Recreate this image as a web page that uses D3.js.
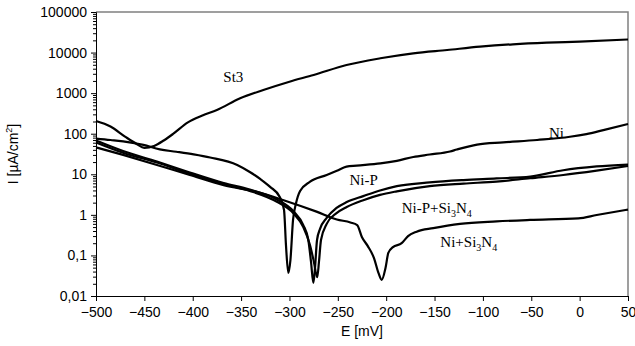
<!DOCTYPE html>
<html>
<head>
<meta charset="utf-8">
<script src="https://cdn.jsdelivr.net/npm/d3@7"></script>
<style>
  body { margin: 0; background: #fff; }
  svg { display: block; }
</style>
</head>
<body>
<div id="chart"></div>
<script>
// potentiodynamic curves, E in mV, I in uA/cm2
const st3E = [-500, -485, -470, -458, -450, -440, -430, -420, -405, -390, -375, -351, -327, -300, -275, -241, -206, -172, -137, -103, -69, -34, 0, 50];
const st3I = [205, 150, 85, 56, 45, 50, 68, 100, 190, 280, 384, 746, 1195, 1915, 2800, 4940, 7230, 9600, 11570, 13960, 16000, 17530, 18550, 21000];

const niE = [-500, -485, -451, -434, -417, -399, -382, -354, -341, -330, -320, -310, -305.6, -303.6, -301.2, -299, -296.3, -293.2, -289, -279, -261.5, -251, -241, -230.5, -206, -189, -172, -155, -134, -127, -106, -79, -44, -10, 7, 24.5, 50];
const niI = [76, 70, 53, 41, 36, 31, 26, 17, 11.4, 7.6, 4.9, 2.75, 1.32, 0.18, 0.037, 0.077, 0.75, 1.93, 3.87, 6.5, 9.6, 12.2, 15.4, 16.3, 18.5, 21.5, 26.7, 30.7, 36.5, 40.8, 54, 61, 70, 84, 98, 123, 173];

const niPE = [-500, -472, -437, -403, -368, -341, -313, -296, -285.7, -280.5, -277.7, -275.3, -273.6, -271.5, -268.4, -261.5, -251.3, -240.8, -223.7, -206.4, -189, -155, -120, -86, -51, -17, 17.6, 50];
const niPI = [68, 37.5, 20.6, 11.1, 6.1, 4.2, 2.4, 1.24, 0.56, 0.24, 0.069, 0.021, 0.049, 0.24, 0.45, 0.84, 1.48, 2.07, 2.9, 4.0, 5.1, 6.3, 7.2, 7.9, 8.8, 12.6, 15.6, 17.4];

const niPSiE = [-500, -472, -437, -403, -368, -341, -313, -296, -285.7, -278.8, -274.7, -271.3, -269.5, -267.4, -261.5, -251.3, -240.8, -223.7, -206.4, -189, -155, -120, -86, -51, -17, 17.6, 50];
const niPSiI = [61, 34, 19.5, 10.4, 5.8, 3.9, 2.1, 1.1, 0.5, 0.18, 0.069, 0.029, 0.069, 0.24, 0.6, 1.1, 1.56, 2.3, 3.1, 3.8, 5.1, 5.9, 6.6, 8.0, 9.6, 12.3, 16];

const niSiE = [-500, -472, -437, -403, -368, -334, -306, -272, -251, -237, -230, -225, -219, -212.6, -208, -204.6, -200.7, -197.8, -193, -184, -177.4, -168.5, -151.3, -123.7, -85.8, -51.3, -1.4, 17.6, 50];
const niSiI = [46, 30, 17, 9.6, 5.4, 3.7, 2.3, 1.2, 0.77, 0.65, 0.56, 0.28, 0.17, 0.086, 0.037, 0.025, 0.049, 0.115, 0.16, 0.2, 0.3, 0.385, 0.47, 0.6, 0.69, 0.75, 0.82, 0.99, 1.35];

const xTicks = [-500, -450, -400, -350, -300, -250, -200, -150, -100, -50, 0, 50];
const yTicks = [0.01, 0.1, 1, 10, 100, 1000, 10000, 100000];

// curve labels: [main, sub, main, sub], anchored at E / I
const labels = [
  { parts: ['St3'], e: -358, i: 1880, anchor: 'middle' },
  { parts: ['Ni'], e: -24, i: 78, anchor: 'middle' },
  { parts: ['Ni-P'], e: -238, i: 5.4, anchor: 'start' },
  { parts: ['Ni-P+Si', '3', 'N', '4'], e: -184, i: 1.1, anchor: 'start' },
  { parts: ['Ni+Si', '3', 'N', '4'], e: -144, i: 0.16, anchor: 'start' }
];

const width = 635;
const height = 346;
const margin = { top: 12, right: 7, bottom: 50, left: 96 };

const svg = d3.select('#chart')
  .append('svg')
  .attr('width', width)
  .attr('height', height);

const x = d3.scaleLinear()
  .domain([-500, 50])
  .range([margin.left, width - margin.right]);

const y = d3.scaleLog()
  .domain([0.01, 100000])
  .range([height - margin.bottom, margin.top]);

const sans = "'Liberation Sans', Arial, sans-serif";
const serif = "'Liberation Serif', 'Times New Roman', serif";

// frame (top and right edges)
svg.append('path')
  .attr('d', `M${x(-500)},${y(100000)}H${x(50)}V${y(0.01)}`)
  .attr('fill', 'none')
  .attr('stroke', '#808080')
  .attr('stroke-width', 1.5);

// minor log ticks
const minor = [];
yTicks.slice(0, -1).forEach(d => {
  for (let k = 2; k <= 9; k++) minor.push(d * k);
});

svg.append('g')
  .attr('transform', `translate(${margin.left},0)`)
  .call(d3.axisLeft(y).tickValues(minor).tickSize(3).tickFormat(''))
  .call(g => g.select('.domain').remove());

const fmt = d => d < 1 ? String(d).replace('.', ',') : d3.format('d')(d);

const yAxis = svg.append('g')
  .attr('transform', `translate(${margin.left},0)`)
  .call(d3.axisLeft(y).tickValues(yTicks).tickSize(5).tickPadding(4).tickFormat(fmt));

const xAxis = svg.append('g')
  .attr('transform', `translate(0,${height - margin.bottom})`)
  .call(d3.axisBottom(x).tickValues(xTicks).tickSize(5).tickPadding(6).tickFormat(d3.format('d')));

[xAxis, yAxis].forEach(g => {
  g.selectAll('text').attr('font-family', sans).attr('font-size', 14).attr('fill', '#000');
  g.selectAll('line, path').attr('stroke', '#000');
});

// axis titles
svg.append('text')
  .attr('x', x(-225))
  .attr('y', 336)
  .attr('text-anchor', 'middle')
  .attr('font-family', sans)
  .attr('font-size', 14)
  .text('E [mV]');

const yTitle = svg.append('text')
  .attr('transform', `translate(18,${(margin.top + height - margin.bottom) / 2}) rotate(-90)`)
  .attr('text-anchor', 'middle')
  .attr('font-family', sans)
  .attr('font-size', 14);
yTitle.append('tspan').text('I [\u00b5A/cm');
yTitle.append('tspan').attr('font-size', 9).attr('dy', -6).text('2');
yTitle.append('tspan').attr('dy', 6).text(']');

// curves
const series = [
  [st3E, st3I],
  [niE, niI],
  [niPE, niPI],
  [niPSiE, niPSiI],
  [niSiE, niSiI]
];

const line = d3.line()
  .x(d => x(d[0]))
  .y(d => y(d[1]))
  .curve(d3.curveMonotoneX);

series.forEach(([es, is]) => {
  svg.append('path')
    .datum(es.map((e, k) => [e, is[k]]))
    .attr('fill', 'none')
    .attr('stroke', '#000')
    .attr('stroke-width', 2.2)
    .attr('stroke-linejoin', 'round')
    .attr('d', line);
});

// curve labels
labels.forEach(l => {
  const t = svg.append('text')
    .attr('x', x(l.e))
    .attr('y', y(l.i))
    .attr('text-anchor', l.anchor)
    .attr('font-family', serif)
    .attr('font-size', 15)
    .attr('fill', '#000');
  l.parts.forEach((p, k) => {
    const sub = k % 2 === 1;
    t.append('tspan')
      .attr('font-size', sub ? 10 : 15)
      .attr('dy', k === 0 ? 0 : (sub ? 4 : -4))
      .text(p);
  });
});
</script>
</body>
</html>
